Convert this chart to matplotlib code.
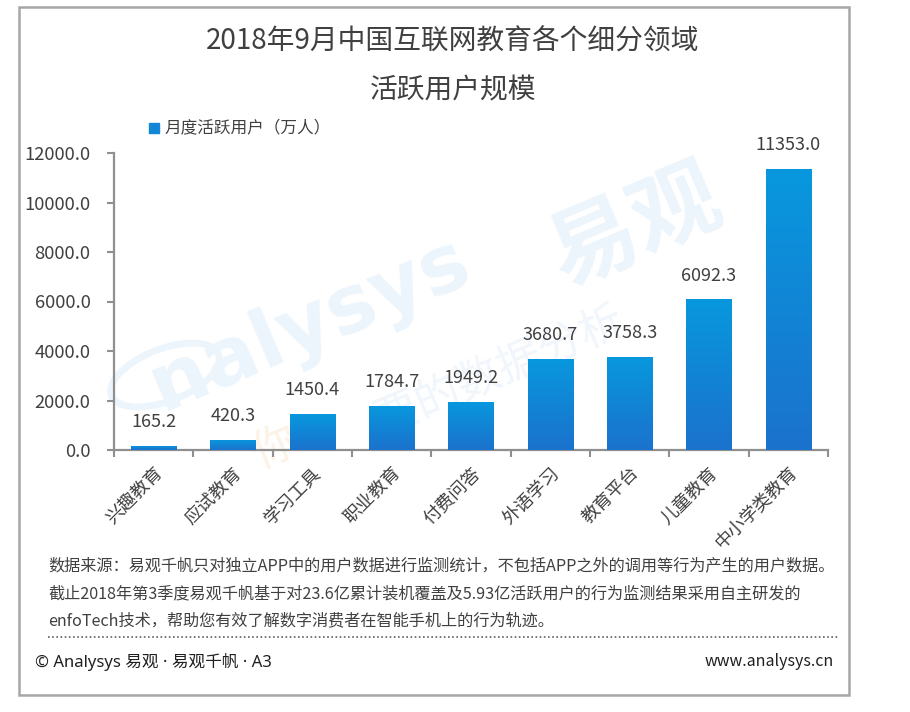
import numpy as np
import matplotlib
matplotlib.use("Agg")
import matplotlib.pyplot as plt
from matplotlib.colors import LinearSegmentedColormap
from matplotlib.patches import Rectangle, Ellipse

plt.rcParams['font.family'] = ['Noto Sans CJK SC', 'DejaVu Sans']

categories = ['兴趣教育', '应试教育', '学习工具', '职业教育', '付费问答',
              '外语学习', '教育平台', '儿童教育', '中小学类教育']
values = [165.2, 420.3, 1450.4, 1784.7, 1949.2, 3680.7, 3758.3, 6092.3, 11353.0]
yticks = [0, 2000, 4000, 6000, 8000, 10000, 12000]
series_name = '月度活跃用户（万人）'
title_text = '2018年9月中国互联网教育各个细分领域\n活跃用户规模'
source_lines = [
    '数据来源：易观千帆只对独立APP中的用户数据进行监测统计，不包括APP之外的调用等行为产生的用户数据。',
    '截止2018年第3季度易观千帆基于对23.6亿累计装机覆盖及5.93亿活跃用户的行为监测结果采用自主研发的',
    'enfoTech技术，帮助您有效了解数字消费者在智能手机上的行为轨迹。',
]
copyright_text = '© Analysys 易观 · 易观千帆 · A3'
url_text = 'www.analysys.cn'

W, H = 910, 712
fig = plt.figure(figsize=(W / 100, H / 100), dpi=100)


def fx(px):
    return px / W


def fy(py):
    return 1 - py / H


TXT = '#404040'
AXC = '#8f8f8f'
WM = '#edf5fc'

# outer frame
fig.patches.append(Rectangle((fx(19), fy(695)), fx(849) - fx(19), fy(7) - fy(695),
                             transform=fig.transFigure, fill=False,
                             edgecolor='#a6a6a6', linewidth=1.8, zorder=0))

# watermark (behind the axes)
fig.patches.append(Ellipse((fx(165), fy(375)), fx(120), fy(0) - fy(50), angle=30,
                           transform=fig.transFigure, fill=False, edgecolor=WM,
                           linewidth=5, zorder=-1))
fig.text(fx(310), fy(325), 'nalysys', fontsize=58, fontweight='bold', color=WM,
         rotation=23, ha='center', va='center', family=['DejaVu Sans'], zorder=-1)
fig.text(fx(635), fy(228), '易观', fontsize=64, fontweight='bold', color=WM,
         rotation=23, ha='center', va='center', zorder=-1)
fig.text(fx(500), fy(370), '要的数据分析', fontsize=32, color='#f0f6fb',
         rotation=23, ha='center', va='center', zorder=-1)
fig.text(fx(275), fy(448), '你', fontsize=32, color='#fdf2e8',
         rotation=23, ha='center', va='center', zorder=-1)

ax = fig.add_axes([fx(114), fy(450), fx(828) - fx(114), fy(153) - fy(450)])
ax.set_facecolor('none')
ax.set_zorder(2)
x = np.arange(len(categories))
bars = ax.bar(x, values, width=0.57, color='#1386d8', zorder=2)

cmap = LinearSegmentedColormap.from_list('g', ['#1b72cc', '#0898de'])
grad = np.linspace(0, 1, 256).reshape(-1, 1)
for b in bars:
    bx, by = b.get_x(), b.get_y()
    bw, bh = b.get_width(), b.get_height()
    im = ax.imshow(grad, cmap=cmap, origin='lower', aspect='auto',
                   extent=[bx, bx + bw, by, by + bh], zorder=3)
    im.set_clip_path(b)

for xi, v in zip(x, values):
    ax.annotate(f'{v:.1f}', (xi, v), xytext=(0, 17), textcoords='offset points',
                ha='center', va='center', fontsize=13, color=TXT, zorder=4)

ax.set_xlim(-0.5, len(categories) - 0.5)
ax.set_ylim(0, 12000)
ax.set_yticks(yticks)
ax.set_yticklabels([f'{t:.1f}' for t in yticks])
ax.set_xticks(x)
ax.set_xticklabels(categories, rotation=45, ha='right', rotation_mode='anchor')
ax.set_xticks(np.arange(len(categories) + 1) - 0.5, minor=True)
ax.tick_params(axis='x', which='major', length=0, pad=10, labelsize=13, labelcolor=TXT)
ax.tick_params(axis='x', which='minor', length=5, width=1.5, color=AXC, direction='out')
ax.tick_params(axis='y', length=5, width=1.5, color=AXC, pad=12, labelsize=13.3, labelcolor=TXT)
for s in ['top', 'right']:
    ax.spines[s].set_visible(False)
for s in ['left', 'bottom']:
    ax.spines[s].set_color(AXC)
    ax.spines[s].set_linewidth(1.6)

# title
fig.text(fx(453), fy(66), title_text, ha='center', va='center', fontsize=20,
         color=TXT, linespacing=1.8, fontweight='light')

# legend
fig.patches.append(Rectangle((fx(149), fy(133)), fx(10), fy(123) - fy(133),
                             transform=fig.transFigure, color='#1386d8'))
fig.text(fx(164), fy(128), series_name, ha='left', va='center', fontsize=12, color=TXT)

# footer
for i, line in enumerate(source_lines):
    fig.text(fx(48), fy(566 + i * 27.5), line, ha='left', va='center', fontsize=11.65, color=TXT)
fig.add_artist(plt.Line2D([fx(48), fx(838)], [fy(637), fy(637)], transform=fig.transFigure,
                          color='#606060', linestyle=(0, (1, 1.5)), linewidth=1.2))
fig.text(fx(35), fy(662), copyright_text, ha='left', va='center', fontsize=12,
         color='#202020', family=['Noto Sans', 'Noto Sans CJK SC'])
fig.text(fx(834), fy(662), url_text, ha='right', va='center', fontsize=11.5, color='#202020')

fig.savefig('out.png', dpi=100)
